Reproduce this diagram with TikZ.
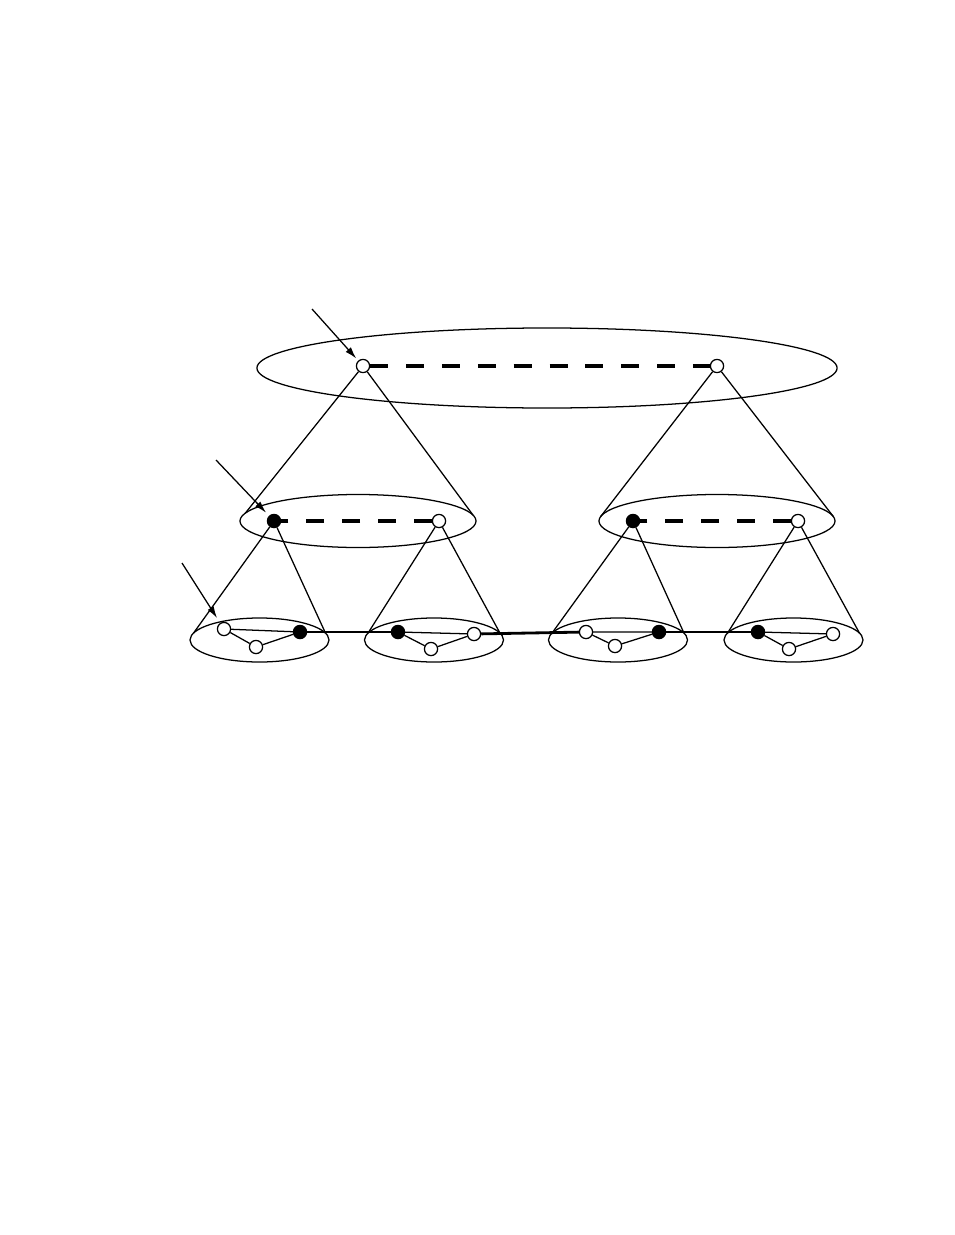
\documentclass[tikz,border=0pt]{standalone}
\usetikzlibrary{shapes.geometric,arrows.meta}
\tikzset{
  wv/.style={circle,draw,fill=white,inner sep=0pt,minimum size=0.33cm,line width=0.9pt},
  bv/.style={wv,fill=black},
  clu/.style={ellipse,draw,inner sep=0pt,outer sep=0pt,line width=0.9pt},
  cone/.style={line width=0.9pt},
  inter/.style={line width=2.2pt,dash pattern=on 12.8pt off 12.7pt},
  bridge/.style={line width=2pt},
  ptr/.style={line width=0.9pt,-{Latex[length=8.5pt,width=5pt]}}
}
\begin{document}
\begin{tikzpicture}[x=0.025cm,y=-0.025cm]
\useasboundingbox (0,0) rectangle (954,1235);
% clusters
\node[clu,minimum width=14.5cm,minimum height=2cm] (top) at (547,368) {};
\node[clu,minimum width=5.9cm,minimum height=1.325cm] (ca) at (358,521) {};
\node[clu,minimum width=5.9cm,minimum height=1.325cm] (cb) at (717,521) {};
\foreach \c/\x in {e1/259.5,e2/434,e3/618,e4/793.5}{
  \node[clu,minimum width=3.475cm,minimum height=1.1cm] (\c) at (\x,640) {};
}
% vertices
\node[wv] (tl) at (363,366) {};
\node[wv] (tr) at (717,366) {};
\node[bv] (l1) at (274,521) {};
\node[wv] (l2) at (439,521) {};
\node[bv] (l3) at (633,521) {};
\node[wv] (l4) at (798,521) {};
\node[wv] (e1a) at (224,629) {};
\node[wv] (e1b) at (256,647) {};
\node[bv] (e1c) at (300,632) {};
\node[bv] (e2a) at (398,632) {};
\node[wv] (e2b) at (431,649) {};
\node[wv] (e2c) at (474,634) {};
\node[wv] (e3a) at (586,632) {};
\node[wv] (e3b) at (615,646) {};
\node[bv] (e3c) at (659,632) {};
\node[bv] (e4a) at (758,632) {};
\node[wv] (e4b) at (789,649) {};
\node[wv] (e4c) at (833,634) {};
% cones
\draw[cone] (ca.176.5) -- (tl) -- (ca.3.5);
\draw[cone] (cb.178) -- (tr) -- (cb.2);
\draw[cone] (e1.174) -- (l1) -- (e1.6);
\draw[cone] (e2.174) -- (l2) -- (e2.6);
\draw[cone] (e3.174) -- (l3) -- (e3.6);
\draw[cone] (e4.174) -- (l4) -- (e4.6);
% links
\draw[inter] (tl) -- (tr);
\draw[inter] (l2) -- (l1);
\draw[inter] (l4) -- (l3);
\foreach \c in {e1,e2,e3,e4}{
  \draw[cone] (\c a) -- (\c b) -- (\c c) -- (\c a);
}
\draw[bridge] (e1c) -- (e2a);
\draw[bridge] (e2c) -- (e3a);
\draw[bridge] (e3c) -- (e4a);
% pointers
\coordinate (s1) at (312,309);
\coordinate (s2) at (216,460);
\coordinate (s3) at (182,563);
\draw[ptr,shorten >=2pt] (s1) -- (tl);
\draw[ptr,shorten >=3pt] (s2) -- (l1);
\draw[ptr,shorten >=4pt] (s3) -- (e1a);
\end{tikzpicture}
\end{document}
